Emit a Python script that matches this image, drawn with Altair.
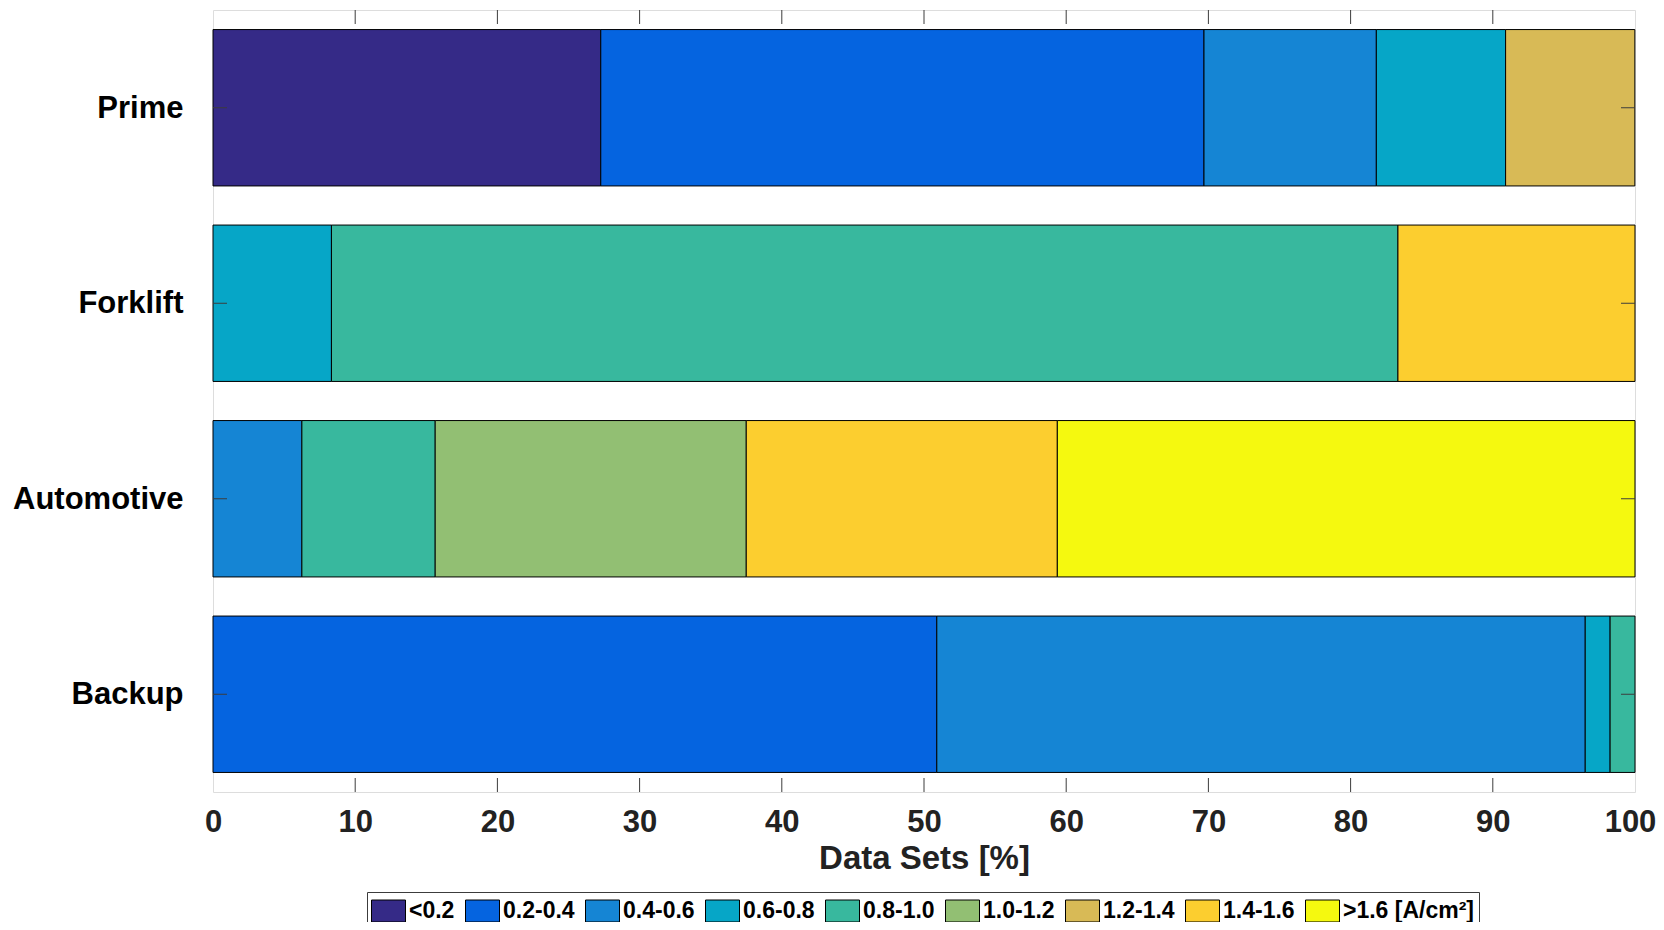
import altair as alt
import pandas as pd

# ---- data ----
applications = ["Prime", "Forklift", "Automotive", "Backup"]
classes = ["<0.2", "0.2-0.4", "0.4-0.6", "0.6-0.8", "0.8-1.0",
           "1.0-1.2", "1.2-1.4", "1.4-1.6", ">1.6 [A/cm²]"]
colors = ["#352A87", "#0564E0", "#1585D4", "#06A6C7", "#38B89E",
          "#92BF73", "#D8BA56", "#FCCE2F", "#F5F90F"]

prime = [27.27, 42.42, 12.12, 9.09, 0, 0, 9.09, 0, 0]
forklift = [0, 0, 0, 8.33, 75.0, 0, 0, 16.67, 0]
automotive = [0, 0, 6.25, 0, 9.375, 21.875, 0, 21.875, 40.625]
backup = [0, 50.9, 45.6, 1.75, 1.75, 0, 0, 0, 0]

x_ticks = [10, 20, 30, 40, 50, 60, 70, 80, 90]

series = {"Prime": prime, "Forklift": forklift,
          "Automotive": automotive, "Backup": backup}
rows = []
for app in applications:
    for i, (c, v) in enumerate(zip(classes, series[app])):
        if v > 0:
            rows.append({"app": app, "cls": c, "ci": i, "pct": v})
df = pd.DataFrame(rows)
tick_df = pd.DataFrame({"t": x_ticks})
ytick_df = pd.DataFrame({"app": applications})

# ---- layout ----
W, H = 1422, 782
TICK = 14
FONT = "Liberation Sans"
AX = "#3c3c3c"

yscale = alt.Scale(domain=applications, paddingInner=0.2, paddingOuter=0.1)
xscale = alt.Scale(domain=[0, 100], nice=False, zero=True)

bars = alt.Chart(df).mark_bar(stroke="black", strokeWidth=1).encode(
    x=alt.X("pct:Q", stack="zero", scale=xscale,
            axis=alt.Axis(values=list(range(0, 101, 10)), format="d",
                          title="Data Sets [%]", grid=False, ticks=False,
                          tickSize=0, domain=False, labelFont=FONT,
                          labelFontSize=31, labelFontWeight="bold",
                          labelColor="#222222", labelPadding=15,
                          labelOffset={"condition": {"test": "datum.value == 100",
                                                     "value": -5},
                                       "value": 0},
                          titleFont=FONT, titleFontSize=33,
                          titleFontWeight="bold", titleColor="#222222",
                          titlePadding=5, labelFlush=False)),
    y=alt.Y("app:N", sort=applications, scale=yscale,
            axis=alt.Axis(title=None, ticks=False, tickSize=0, domain=False,
                          labelFont=FONT, labelFontSize=31,
                          labelFontWeight="bold", labelColor="#000000",
                          labelPadding=30, labelBaseline="middle",
                          labelOffset=1)),
    color=alt.Color("cls:N", scale=alt.Scale(domain=classes, range=colors),
                    legend=alt.Legend(
                        title=None, orient="none", direction="horizontal",
                        columns=9, legendX=154, legendY=882,
                        symbolType="M-1,-0.647L1,-0.647L1,0.647L-1,0.647Z",
                        symbolSize=1156, symbolStrokeColor="black",
                        symbolStrokeWidth=1, symbolOpacity=1,
                        clipHeight=30, labelFont=FONT, labelFontSize=23,
                        labelFontWeight="bold", labelColor="#000000",
                        labelOffset=3, columnPadding=10, padding=4,
                        strokeColor=AX, fillColor="white",
                        labelLimit=400)),
    order=alt.Order("ci:Q", sort="ascending"),
)

top_ticks = alt.Chart(tick_df).mark_rule(color=AX, strokeWidth=1).encode(
    x=alt.X("t:Q", scale=xscale), y=alt.value(0), y2=alt.value(TICK))
bot_ticks = alt.Chart(tick_df).mark_rule(color=AX, strokeWidth=1).encode(
    x=alt.X("t:Q", scale=xscale), y=alt.value(H - TICK), y2=alt.value(H))
left_ticks = alt.Chart(ytick_df).mark_rule(color=AX, strokeWidth=1).encode(
    y=alt.Y("app:N", sort=applications, scale=yscale),
    x=alt.value(0), x2=alt.value(TICK))
right_ticks = alt.Chart(ytick_df).mark_rule(color=AX, strokeWidth=1).encode(
    y=alt.Y("app:N", sort=applications, scale=yscale),
    x=alt.value(W - TICK), x2=alt.value(W))

chart = alt.layer(bars, top_ticks, bot_ticks, left_ticks, right_ticks).properties(
    width=W, height=H,
    autosize=alt.AutoSizeParams(type="none"),
    padding={"left": 205, "top": 2, "right": 21, "bottom": 130},
).configure_view(stroke=AX, strokeWidth=1).configure(background="white")

chart.save("out.html", embed_options={"renderer": "svg", "actions": False})
